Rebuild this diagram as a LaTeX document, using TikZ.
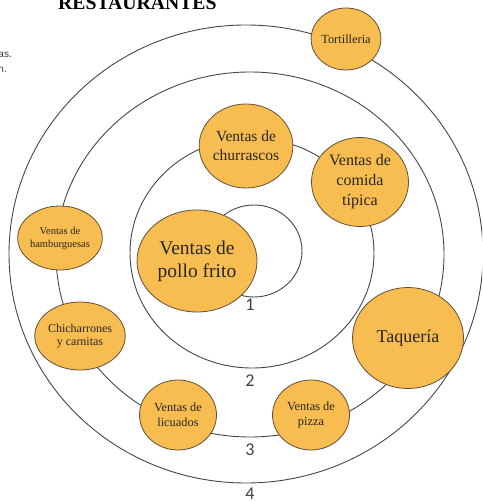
\documentclass[tikz,border=0pt]{standalone}
\usepackage{fontspec}
\setmainfont{Liberation Serif}
\newfontfamily\labfont{Carlito}
\newfontfamily\arialfont{Liberation Sans}
\usetikzlibrary{shapes.geometric}
\definecolor{nodefill}{RGB}{248,189,80}
\definecolor{nodeline}{RGB}{95,80,55}
\definecolor{ringline}{RGB}{70,70,70}
\tikzset{
  ring/.style={draw=ringline, line width=0.9pt},
  shop/.style={ellipse, draw=nodeline, fill=nodefill, line width=0.8pt, inner sep=0pt, align=center, text=black!85},
  ringlabel/.style={font=\labfont\fontsize{18}{18}\selectfont, text=black!75, inner sep=0pt},
}
\begin{document}
\begin{tikzpicture}[x=1pt,y=-1pt]
\path[use as bounding box] (0,0) rectangle (482,502);
\clip (0,0) rectangle (482,502);
% rings
\draw[ring] (246,254) ellipse [x radius=237, y radius=229];
\draw[ring] (250,254.5) ellipse [x radius=194, y radius=182.5];
\draw[ring] (252,253) ellipse [x radius=122, y radius=115];
\draw[ring] (254,251) ellipse [x radius=48, y radius=46];
% title and cut text
\node[font=\bfseries\fontsize{19.7}{20}\selectfont, anchor=base west, inner sep=0pt] (title) at (58,10) {RESTAURANTES};
\node[font=\arialfont\fontsize{10}{10}\selectfont, anchor=base east, inner sep=0pt, text=black!80] (cut1) at (12,58) {as.};
\node[font=\arialfont\fontsize{10}{10}\selectfont, anchor=base east, inner sep=0pt, text=black!80] (cut2) at (7,73) {n.};
% shops
\node[shop, minimum width=68pt, minimum height=62pt, font=\fontsize{12.4}{14}\selectfont] (tort) at (346,39) {Tortilleria};
\node[shop, minimum width=92pt, minimum height=84pt, font=\fontsize{15.5}{19}\selectfont] (churr) at (246,146) {Ventas de\\churrascos};
\node[shop, minimum width=97pt, minimum height=89pt, font=\fontsize{16}{20}\selectfont] (tipica) at (360,182) {Ventas de\\comida\\típica};
\node[shop, minimum width=120pt, minimum height=102pt, font=\fontsize{19.5}{23}\selectfont] (pollo) at (197,261) {Ventas de\\pollo frito};
\node[shop, minimum width=111pt, minimum height=101pt, font=\fontsize{18}{20}\selectfont] (taq) at (408,338) {Taquería};
\node[shop, minimum width=70pt, minimum height=64pt, font=\fontsize{10.5}{13}\selectfont] (hamb) at (60,238) {Ventas de\\hamburguesas};
\node[shop, minimum width=76pt, minimum height=68pt, font=\fontsize{12}{13}\selectfont] (chich) at (80,336) {Chicharrones\\y carnitas};
\node[shop, minimum width=77pt, minimum height=70pt, font=\fontsize{12.4}{15}\selectfont] (licu) at (178,415) {Ventas de\\licuados};
\node[shop, minimum width=77pt, minimum height=70pt, font=\fontsize{12.4}{15}\selectfont] (pizza) at (311,415) {Ventas de\\pizza};
% ring labels
\node[ringlabel] (l1) at (250,305) {1};
\node[ringlabel] (l2) at (250,381) {2};
\node[ringlabel] (l3) at (250,450) {3};
\node[ringlabel] (l4) at (250,494) {4};
\end{tikzpicture}
\end{document}
